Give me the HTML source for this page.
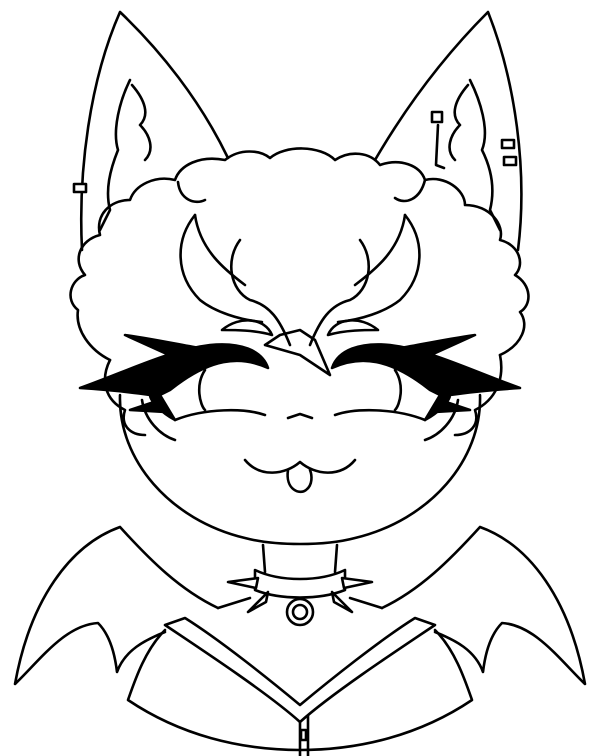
<!DOCTYPE html>
<html><head><meta charset="utf-8"><style>html,body{margin:0;padding:0;background:#fff}svg{display:block}</style></head>
<body>
<svg width="600" height="756" viewBox="0 0 600 756" xmlns="http://www.w3.org/2000/svg" fill="none" stroke="#000" stroke-width="2.6" stroke-linecap="round" stroke-linejoin="round">
<!-- ears -->
<path d="M82 250 C78 170 90 80 120 12 C160 50 200 100 228 158"/>
<path d="M518 250 C528 170 515 80 488 12 C450 50 410 100 375 160"/>
<path d="M130 80 C120 100 112 130 118 150 C110 170 105 190 110 210 L100 230"/>
<path d="M470 80 C480 100 490 130 482 150 C492 170 495 190 490 210 L500 230"/>
<path d="M132 85 C145 100 150 115 140 125 C150 135 155 150 145 160"/>
<path d="M468 85 C455 100 450 115 460 125 C450 135 445 150 455 160"/>
<!-- earrings -->
<rect x="74" y="184" width="12" height="8" fill="#fff"/>
<rect x="432" y="112" width="10" height="10" fill="#fff"/>
<rect x="502" y="140" width="12" height="8" fill="#fff"/>
<rect x="504" y="157" width="12" height="8" fill="#fff"/>
<path d="M438 125 L436 165 L444 168"/>
<!-- hair outline -->
<path d="M110 360 C90 350 75 330 78 310 C65 300 70 280 85 275 C72 260 80 240 100 235 C95 215 110 200 130 200 C135 185 155 175 175 180 C180 165 200 155 225 160 C240 148 260 150 270 158 C285 145 320 145 335 160 C350 150 370 152 380 165 C400 158 420 165 425 180 C445 175 465 190 465 205 C490 205 505 225 500 240 C520 245 525 265 515 275 C532 285 532 305 520 312 C530 325 522 345 500 355"/>
<path d="M178 182 C180 200 195 205 205 200"/>
<path d="M425 180 C420 200 405 205 395 198"/>
<!-- horns -->
<path d="M195 215 C175 240 175 275 200 300 C215 312 240 320 262 322"/>
<path d="M195 215 C200 250 225 270 245 285"/>
<path d="M405 215 C425 240 425 275 400 300 C385 312 360 320 338 322"/>
<path d="M405 215 C400 250 375 270 355 285"/>
<!-- center hair -->
<path d="M240 240 C225 260 230 290 250 300 C270 305 280 320 290 345"/>
<path d="M360 240 C375 260 370 290 350 300 C330 305 320 320 310 345"/>
<path d="M265 345 L300 355 L330 375 L315 340 L300 330 L280 335 Z"/>
<path d="M222 330 C240 315 265 318 272 335 C255 330 235 330 222 330 Z"/>
<path d="M378 330 C360 315 335 318 328 335 C345 330 365 330 378 330 Z"/>
<!-- hair sides -->
<path d="M110 360 C100 380 105 400 125 410 C120 425 130 435 145 435"/>
<path d="M500 355 C505 380 495 400 475 410 C480 425 470 435 455 435"/>
<!-- face -->
<path d="M120 395 C118 460 170 520 245 538 C275 546 325 546 355 538 C430 520 482 460 480 395"/>
<!-- eyes -->
<path d="M80 388 C130 370 170 350 210 345 C240 342 262 350 268 368 C240 355 210 358 170 390 L160 395 L175 420 C160 412 150 400 150 395 C130 392 110 390 80 388 Z" fill="#000"/>
<path d="M125 335 C160 340 180 345 200 348 L180 360 Z" fill="#000"/>
<path d="M130 410 L160 400 L165 412 Z" fill="#000"/>
<path d="M520 388 C470 370 430 350 390 345 C360 342 338 350 332 368 C360 355 390 358 430 390 L440 395 L425 420 C440 412 450 400 450 395 C470 392 490 390 520 388 Z" fill="#000"/>
<path d="M475 335 C440 340 420 345 400 348 L420 360 Z" fill="#000"/>
<path d="M470 410 L440 400 L435 412 Z" fill="#000"/>
<path d="M175 420 C205 408 245 408 265 415"/>
<path d="M425 420 C395 408 355 408 335 415"/>
<path d="M205 370 C195 385 200 405 205 410"/>
<path d="M395 370 C405 385 400 405 395 410"/>
<path d="M142 400 C145 420 160 435 175 440"/>
<path d="M458 400 C455 420 440 435 425 440"/>
<!-- nose/mouth -->
<path d="M288 418 L300 414 L312 418"/>
<path d="M245 460 C260 478 285 475 300 462 C315 475 340 478 355 460"/>
<path d="M288 470 C285 490 300 495 306 490 C313 485 312 475 310 470"/>
<!-- neck -->
<path d="M263 545 L265 572 M337 545 L335 572"/>
<!-- collar -->
<path d="M255 570 C280 582 320 582 345 570 L345 590 C320 600 280 600 255 590 Z"/>
<path d="M228 582 L258 578 L256 588 Z M372 582 L342 578 L344 588 Z M248 612 L268 592 L266 602 Z M352 612 L332 592 L334 602 Z" fill="#fff"/>
<circle cx="300" cy="612" r="13"/><circle cx="300" cy="612" r="7"/>
<!-- wings -->
<path d="M218 608 C180 590 150 560 120 527 C70 545 30 600 15 684 C40 660 65 625 98 623 C110 635 115 655 117 672 C125 650 145 640 165 632"/>
<path d="M382 608 C420 590 450 560 480 527 C530 545 570 600 585 684 C560 660 535 625 502 623 C490 635 485 655 483 672 C475 650 455 640 435 632"/>
<!-- shirt -->
<path d="M165 630 C145 650 135 680 128 700 C180 735 240 750 300 750 C360 750 420 735 472 700 C465 680 455 650 435 630"/>
<path d="M218 608 L250 598 M382 608 L350 598"/>
<path d="M165 625 L185 618 C220 640 270 680 300 705 C330 680 380 640 415 618 L435 625 C390 655 330 695 300 722 C270 695 210 655 165 625 Z"/>
<path d="M300 722 L300 756 M308 716 L308 756"/>
<rect x="301" y="730" width="5" height="10"/>
</svg>
</body></html>
